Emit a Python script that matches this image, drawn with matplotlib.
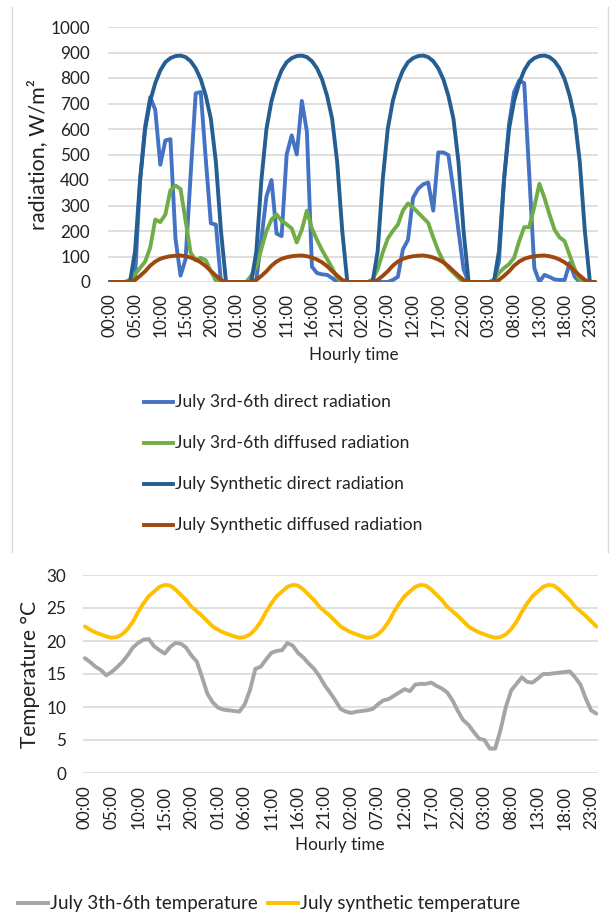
import matplotlib
matplotlib.use('Agg')
import matplotlib.pyplot as plt
from matplotlib.lines import Line2D

plt.rcParams['font.family'] = ['Lato', 'DejaVu Sans']

W, H = 613, 917
TXT = '#222222'
GRID = '#d9d9d9'

# ---------------- data ----------------
hours = list(range(97))
tick_positions = [0, 5, 10, 15, 20, 25, 30, 35, 40, 45, 50, 55, 60, 65, 70, 75, 80, 85, 90, 95]
tick_labels = ["00:00", "05:00", "10:00", "15:00", "20:00", "01:00", "06:00", "11:00", "16:00", "21:00",
               "02:00", "07:00", "12:00", "17:00", "22:00", "03:00", "08:00", "13:00", "18:00", "23:00"]

direct_real = ([0, 0, 0, 0, 0, 20, 400, 610, 725, 675, 460, 555, 560, 170, 25, 90, 420, 740, 745, 480, 230, 225, 0, 0]
               + [0, 0, 0, 0, 0, 10, 170, 335, 400, 190, 180, 500, 575, 500, 710, 590, 60, 35, 30, 28, 15, 0, 0, 0]
               + [0, 0, 0, 0, 0, 0, 0, 0, 8, 20, 128, 165, 330, 365, 383, 390, 280, 508, 508, 498, 360, 200, 50, 0]
               + [0, 0, 0, 0, 0, 80, 400, 620, 745, 790, 780, 420, 55, 0, 28, 20, 10, 8, 8, 75, 20, 0, 0, 0]
               + [0])
diffuse_real = ([0, 0, 0, 0, 10, 30, 55, 80, 135, 245, 235, 265, 360, 378, 365, 240, 115, 85, 95, 85, 42, 5, 0, 0]
                + [0, 0, 0, 0, 25, 60, 130, 200, 245, 265, 240, 226, 210, 155, 205, 280, 210, 165, 125, 90, 55, 16, 0, 0]
                + [0, 0, 0, 0, 10, 50, 115, 170, 200, 225, 280, 308, 292, 272, 252, 232, 175, 122, 82, 55, 36, 16, 0, 0]
                + [0, 0, 0, 0, 10, 35, 55, 70, 95, 160, 215, 215, 295, 385, 330, 265, 205, 175, 160, 105, 50, 5, 0, 0]
                + [0])
synth_direct_day = [0, 0, 0, 0, 0, 120, 400, 600, 710, 780, 830, 862, 878, 886, 888, 882, 866, 838, 795, 730,
                    640, 470, 200, 0]
synth_diffuse_day = [0, 0, 0, 0, 0, 8, 24, 42, 64, 80, 91, 97, 101, 103, 104, 101, 96, 88, 77, 62, 43, 25, 8, 0]

temp_real = [17.4, 16.8, 16.1, 15.6, 14.8, 15.3, 16.0, 16.8, 17.8, 19.0, 19.7, 20.2, 20.3, 19.2, 18.6, 18.1,
             19.1, 19.7, 19.6, 19.0, 17.8, 16.9, 14.5, 12.0,
             10.7, 9.9, 9.6, 9.5, 9.4, 9.3, 10.4, 12.6, 15.8, 16.1, 17.2, 18.2, 18.5, 18.6, 19.7, 19.3,
             18.2, 17.5, 16.6, 15.8, 14.7, 13.3, 12.2, 11.0,
             9.7, 9.3, 9.1, 9.3, 9.4, 9.5, 9.7, 10.4, 11.0, 11.2, 11.7, 12.2, 12.7, 12.4, 13.4, 13.5,
             13.5, 13.7, 13.2, 12.8, 12.2, 11.0, 9.4, 8.0,
             7.3, 6.2, 5.2, 5.0, 3.7, 3.7, 6.5, 10.0, 12.5, 13.5, 14.5, 13.8, 13.7, 14.3, 15.0, 15.0,
             15.1, 15.2, 15.3, 15.4, 14.5, 13.4, 11.3, 9.5,
             9.0]
synth_temp_day = [22.2, 21.7, 21.3, 21.0, 20.7, 20.5, 20.6, 21.0, 21.8, 22.9, 24.4, 25.7, 26.8, 27.5, 28.2, 28.5,
                  28.4, 27.8, 27.0, 26.2, 25.2, 24.5, 23.8, 23.0]

synth_direct = synth_direct_day * 4 + synth_direct_day[:1]
synth_diffuse = synth_diffuse_day * 4 + synth_diffuse_day[:1]
synth_temp = synth_temp_day * 4 + synth_temp_day[:1]

rad_series = [
    ("July 3rd-6th direct radiation", direct_real, '#4472C4'),
    ("July 3rd-6th diffused radiation", diffuse_real, '#70AD47'),
    ("July Synthetic direct radiation", synth_direct, '#255E91'),
    ("July Synthetic diffused radiation", synth_diffuse, '#9E480E'),
]
temp_series = [
    ("July 3th-6th temperature", temp_real, '#A5A5A5'),
    ("July synthetic temperature", synth_temp, '#FFC000'),
]

# ---------------- figure ----------------
fig = plt.figure(figsize=(W / 100, H / 100), dpi=100)


def fx(x):
    return x / W


def fy(y):
    return 1 - y / H


FS = 12.3
LW = 2.8

# top axes: pixel box x 108..598, y 27..282
ax1 = fig.add_axes([fx(108), fy(282), fx(598) - fx(108), fy(27) - fy(282)])
for name, vals, col in rad_series:
    ax1.plot(hours, vals, color=col, lw=LW, solid_joinstyle='round', solid_capstyle='round', zorder=3)
ax1.set_xlim(-0.35, 96.6)
ax1.set_ylim(0, 1000)
ax1.set_yticks(range(0, 1001, 100))
ax1.set_xticks(tick_positions)
ax1.set_xticklabels(tick_labels, rotation=90)
ax1.grid(axis='y', color=GRID, lw=1.2)
ax1.grid(axis='x', visible=False)
ax1.set_axisbelow(True)
for s in ax1.spines.values():
    s.set_visible(False)
ax1.tick_params(axis='both', length=0, labelsize=FS, labelcolor=TXT)
ax1.tick_params(axis='y', pad=13)
ax1.tick_params(axis='x', pad=8)

fig.text(fx(38), fy(154), "radiation, W/m²", rotation=90, ha='center', va='center', fontsize=15.5, color=TXT)
fig.text(fx(354), fy(355), "Hourly time", ha='center', va='center', fontsize=FS, color=TXT)

# top legend (manual)
leg_y = [402, 443, 484, 525]
for (name, vals, col), yy in zip(rad_series, leg_y):
    fig.add_artist(Line2D([fx(144), fx(173)], [fy(yy), fy(yy)], color=col, lw=LW, transform=fig.transFigure))
    fig.text(fx(175), fy(yy), name, ha='left', va='center', fontsize=12.6, color=TXT)

# light border of the top chart
for xx in (12, 608):
    fig.add_artist(Line2D([fx(xx), fx(xx)], [fy(7), fy(552)], color=GRID, lw=1.0, transform=fig.transFigure))

# bottom axes: pixel box x 83..598, y 575..773
ax2 = fig.add_axes([fx(83), fy(773), fx(598) - fx(83), fy(575) - fy(773)])
for name, vals, col in temp_series:
    ax2.plot(hours, vals, color=col, lw=LW, solid_joinstyle='round', solid_capstyle='round', zorder=3)
ax2.set_xlim(-0.35, 96.3)
ax2.set_ylim(0, 30)
ax2.set_yticks(range(0, 31, 5))
ax2.set_xticks(tick_positions)
ax2.set_xticklabels(tick_labels, rotation=90)
ax2.grid(axis='y', color=GRID, lw=1.2)
ax2.grid(axis='x', visible=False)
ax2.set_axisbelow(True)
for s in ax2.spines.values():
    s.set_visible(False)
ax2.tick_params(axis='both', length=0, labelsize=FS, labelcolor=TXT)
ax2.tick_params(axis='y', pad=12)
ax2.tick_params(axis='x', pad=9)

fig.text(fx(30), fy(675), "Temperature °C", rotation=90, ha='center', va='center', fontsize=15, color=TXT)
fig.text(fx(340), fy(845), "Hourly time", ha='center', va='center', fontsize=FS, color=TXT)

# bottom legend (manual)
fig.add_artist(Line2D([fx(18), fx(48)], [fy(903), fy(903)], color=temp_series[0][2], lw=LW, transform=fig.transFigure))
fig.text(fx(50), fy(903), temp_series[0][0], ha='left', va='center', fontsize=13.5, color=TXT)
fig.add_artist(Line2D([fx(268), fx(298)], [fy(903), fy(903)], color=temp_series[1][2], lw=LW, transform=fig.transFigure))
fig.text(fx(300), fy(903), temp_series[1][0], ha='left', va='center', fontsize=13.5, color=TXT)

fig.savefig('out.png', dpi=100)
